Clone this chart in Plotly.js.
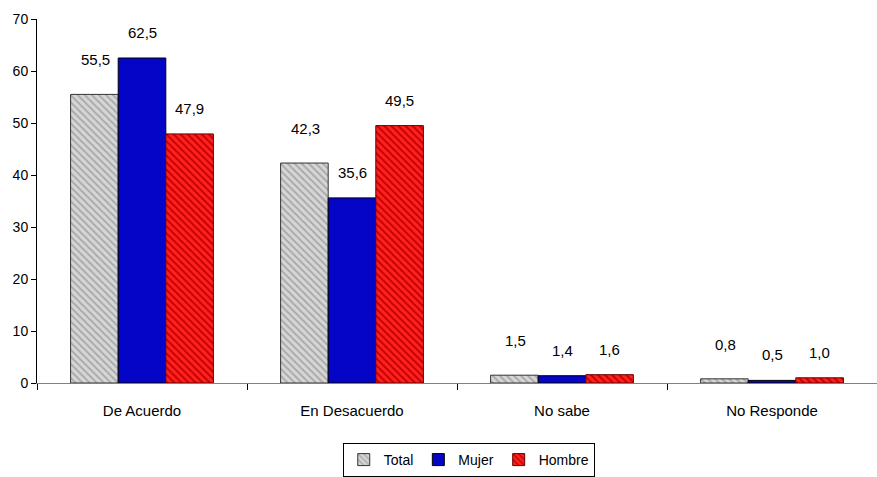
<!DOCTYPE html>
<html><head><meta charset="utf-8">
<script src="https://cdn.plot.ly/plotly-3.0.1.min.js"></script>
<style>html,body{margin:0;padding:0;background:#fff}#c{width:877px;height:477px}</style>
</head><body><div id="c"></div>
<script>
const categories = ["De Acuerdo", "En Desacuerdo", "No sabe", "No Responde"];
const total = [55.5, 42.3, 1.5, 0.8];
const mujer = [62.5, 35.6, 1.4, 0.5];
const hombre = [47.9, 49.5, 1.6, 1.0];
const seriesNames = ["Total", "Mujer", "Hombre"];

const FONT = "'Liberation Sans Narrow', 'Arial Narrow', 'Liberation Sans', Arial, sans-serif";
const fmt = v => v.toFixed(1).replace('.', ',');

const traces = [
  {type:'bar', name:seriesNames[0], x:categories, y:total,
   marker:{color:'#c8c8c8', line:{color:'#333', width:1},
     pattern:{shape:'\\', fgcolor:'#a8a8a8', bgcolor:'#d6d6d6', size:5, solidity:0.35}}},
  {type:'bar', name:seriesNames[1], x:categories, y:mujer,
   marker:{color:'#0505c8', line:{color:'#000', width:1}}},
  {type:'bar', name:seriesNames[2], x:categories, y:hombre,
   marker:{color:'#ff1a1a', line:{color:'#600', width:1},
     pattern:{shape:'\\', fgcolor:'#c00000', bgcolor:'#ff2020', size:5, solidity:0.35}}}
];

const annotations = [];
const series = [total, mujer, hombre];
series.forEach((arr, si) => {
  arr.forEach((v, ci) => {
    annotations.push({
      x: categories[ci], y: v, xref:'x', yref:'y',
      text: fmt(v), showarrow:false, yanchor:'bottom', yshift: si === 0 ? 24 : 15,
      xshift: (si-1)*47,
      font:{family:FONT, size:15, color:'#000'}
    });
  });
});

const layout = {
  width:877, height:477,
  margin:{l:37, r:0, t:19, b:91},
  paper_bgcolor:'#fff', plot_bgcolor:'#fff',
  barmode:'group', bargap:0.32, bargroupgap:0,
  font:{family:FONT, size:14, color:'#000'},
  xaxis:{type:'category', showline:true, linecolor:'#808080', linewidth:1,
    ticks:'outside', tickson:'boundaries', ticklen:6, tickcolor:'#000',
    ticklabelstandoff:14,
    showgrid:false, zeroline:false, tickfont:{family:FONT, size:15}},
  yaxis:{range:[0,70], dtick:10, showline:true, linecolor:'#000', linewidth:1,
    ticks:'outside', ticklen:5, tickcolor:'#000', showgrid:false, zeroline:false,
    tickfont:{family:FONT, size:14}},
  showlegend:true,
  legend:{orientation:'h', x:0.514, xanchor:'center', y:-0.165, yanchor:'top',
    bordercolor:'#000', borderwidth:1, bgcolor:'#fff',
    font:{family:FONT, size:14}, itemwidth:30, traceorder:'normal',
    tracegroupgap:0, itemclick:false},
  annotations: annotations
};

Plotly.newPlot('c', traces, layout, {displayModeBar:false, staticPlot:true});
</script></body></html>
